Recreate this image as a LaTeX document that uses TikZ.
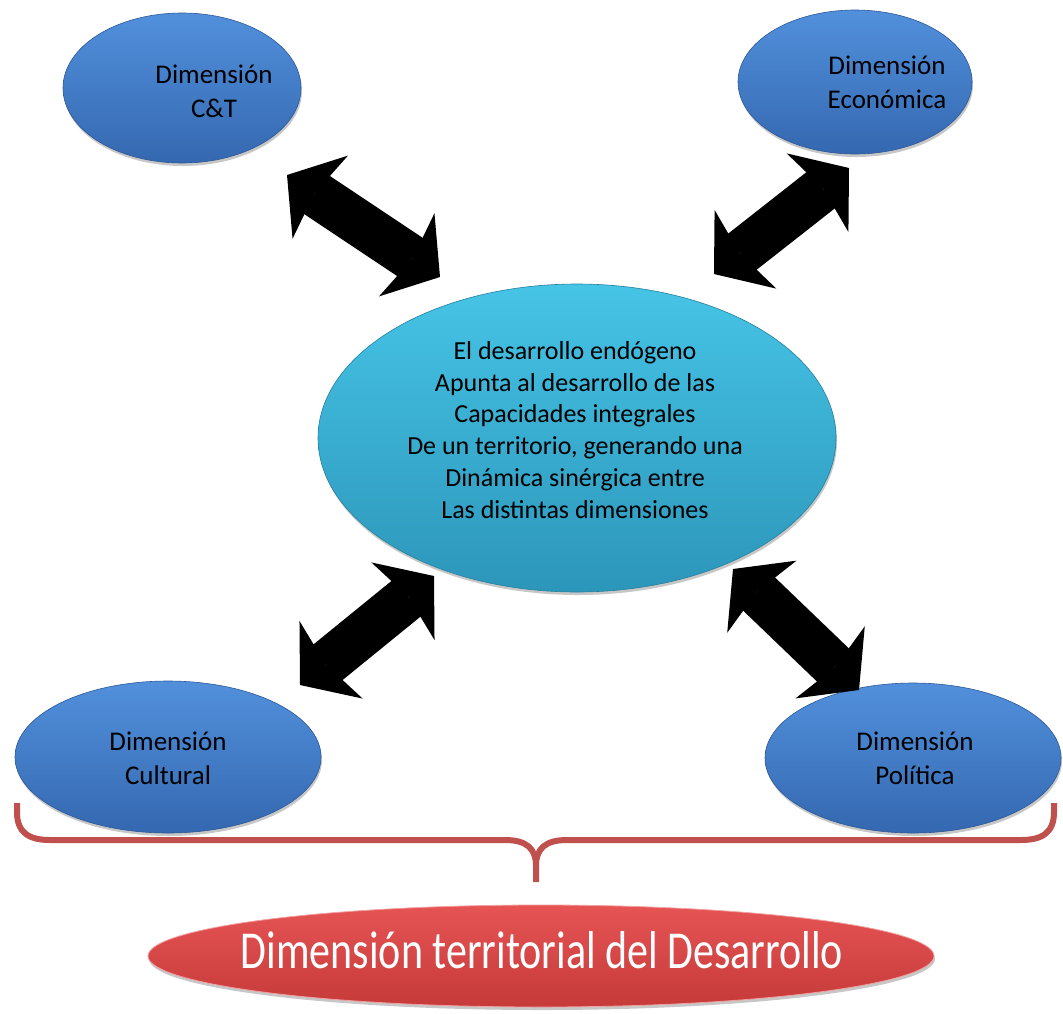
\documentclass[tikz,border=0pt]{standalone}
\usepackage{fontspec}
\setmainfont{Carlito}
\usetikzlibrary{arrows.meta,shapes.geometric,shadows}
\definecolor{blueT}{RGB}{82,144,220}
\definecolor{blueB}{RGB}{52,104,176}
\definecolor{cyanT}{RGB}{70,196,230}
\definecolor{cyanB}{RGB}{44,150,186}
\definecolor{redT}{RGB}{230,84,84}
\definecolor{redB}{RGB}{198,58,58}
\definecolor{braceC}{RGB}{192,80,77}
\begin{document}
\begin{tikzpicture}[x=1pt,y=-1pt,
  shadowed/.style={drop shadow={shadow xshift=1pt,shadow yshift=-3pt,opacity=0.22,fill=black}},
  dimell/.style={ellipse,inner sep=0pt,top color=blueT,bottom color=blueB,draw=blueB!85!black,line width=0.6pt,shadowed},
  cenell/.style={ellipse,inner sep=0pt,top color=cyanT,bottom color=cyanB,draw=cyanB!85!black,line width=0.6pt,shadowed},
  redell/.style={ellipse,inner sep=0pt,top color=redT,bottom color=redB,draw=redT!55!white,line width=0.8pt,shadowed},
  smalltxt/.style={align=center,anchor=base,font=\fontsize{27}{34}\selectfont,text=black,inner sep=0pt},
  centxt/.style={align=center,anchor=base,font=\fontsize{26}{31.7}\selectfont,text=black,inner sep=0pt},
  bigtxt/.style={anchor=base,font=\fontsize{42}{50}\selectfont,text=white,inner sep=0pt},
  blockarrow/.style={line width=46pt,black,
    {Stealth[length=40pt,width=100pt,inset=7pt,line width=0pt]}-{Stealth[length=40pt,width=100pt,inset=7pt,line width=0pt]}},
  bracestyle/.style={draw=braceC,line width=6pt,line join=round}
]
\useasboundingbox (0,0) rectangle (1063,1013);

% ellipses
\node[dimell,minimum width=238pt,minimum height=150pt] (ct) at (182,88) {};
\node[dimell,minimum width=234pt,minimum height=144pt] (eco) at (855,82) {};
\node[cenell,minimum width=518pt,minimum height=308pt] (cen) at (577,438) {};
\node[dimell,minimum width=306pt,minimum height=152pt] (cul) at (168,757) {};
\node[dimell,minimum width=296pt,minimum height=150pt] (pol) at (913,758) {};
\node[redell,minimum width=786pt,minimum height=102pt] (terr) at (541,956) {};

% texts
\node[smalltxt] (ctt) at (214,117) {Dimensión\\C\&T};
\node[smalltxt] (ecot) at (887,108) {Dimensión\\Económica};
\node[smalltxt] (cult) at (168,784) {Dimensión\\Cultural};
\node[smalltxt] (polt) at (915,784) {Dimensión\\Política};
\node[centxt] (cent) at (575,518) {El desarrollo endógeno\\Apunta al desarrollo de las\\Capacidades integrales\\De un territorio, generando una\\Dinámica sinérgica entre\\Las distintas dimensiones};
\node[bigtxt] (terrt) at (542,968) {\scalebox{1}[1.27]{Dimensión territorial del Desarrollo}};

% block arrows
\coordinate (a1s) at (287,175); \coordinate (a1e) at (440,277);
\coordinate (a2s) at (714,274); \coordinate (a2e) at (849,168);
\coordinate (a3s) at (300,685); \coordinate (a3e) at (434,576);
\coordinate (a4s) at (733,569); \coordinate (a4e) at (859,690);
\draw[blockarrow] (a1s) -- (a1e);
\draw[blockarrow] (a2s) -- (a2e);
\draw[blockarrow] (a3s) -- (a3e);
\draw[blockarrow] (a4s) -- (a4e);

% brace
\draw[bracestyle] (17,803) -- (17,812) .. controls (17,832) and (28,840) .. (50,840)
  -- (505,840) .. controls (526,840) and (536,848) .. (536,866) -- (536,882);
\draw[bracestyle] (1054,803) -- (1054,812) .. controls (1054,832) and (1043,840) .. (1021,840)
  -- (567,840) .. controls (546,840) and (536,848) .. (536,866);
\end{tikzpicture}
\end{document}
